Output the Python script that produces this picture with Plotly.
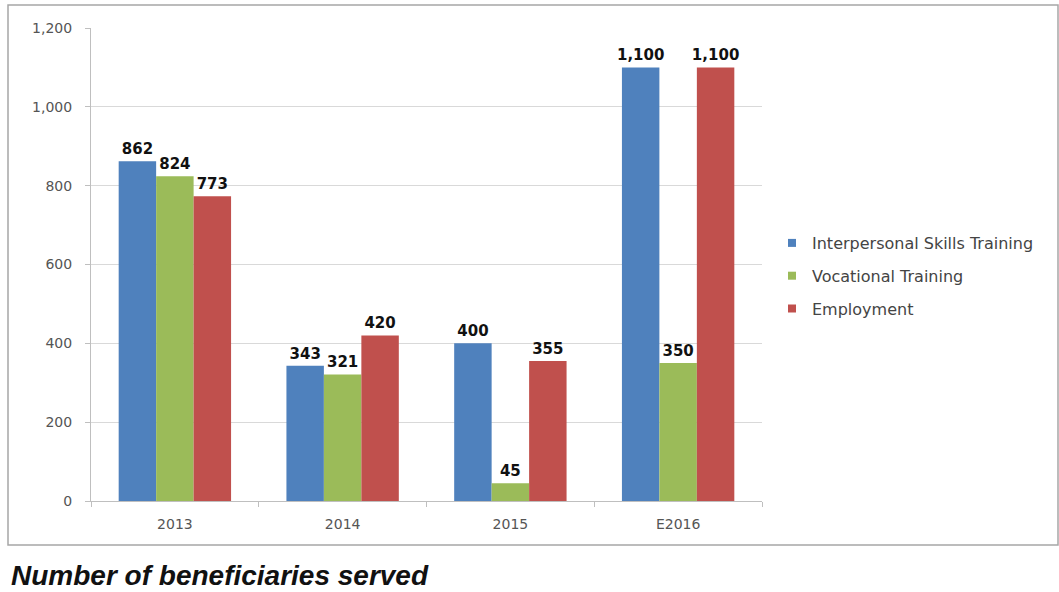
import plotly.graph_objects as go

W, H = 1059, 592
categories = ["2013", "2014", "2015", "E2016"]
series_names = ["Interpersonal Skills Training", "Vocational Training", "Employment"]
interpersonal = [862, 343, 400, 1100]
vocational = [824, 321, 45, 350]
employment = [773, 420, 355, 1100]
colors = ["#4F81BD", "#9BBB59", "#C0504D"]
y_ticks = [0, 200, 400, 600, 800, 1000, 1200]
title_text = "Number of beneficiaries served"

def px_x(p):
    return p / W

def px_y(p):
    return 1 - p / H

fig = go.Figure()
for name, vals, col in zip(series_names, [interpersonal, vocational, employment], colors):
    fig.add_trace(go.Bar(
        x=categories, y=vals, name=name, marker=dict(color=col, line=dict(width=0)),
        texttemplate="<b>%{y:,}</b>", textposition="outside", constraintext="none",
        textfont=dict(family="DejaVu Sans", size=15, color="#111111"),
        cliponaxis=False, showlegend=False,
    ))
    fig.add_trace(go.Scatter(
        x=[None], y=[None], mode="markers", name=name, legendgroup=name,
        marker=dict(symbol="square", size=8, color=col),
    ))

fig.update_layout(
    width=W, height=H,
    margin=dict(l=0, r=0, t=0, b=0),
    paper_bgcolor="white", plot_bgcolor="white",
    barmode="group", bargap=0.33, bargroupgap=0,
    xaxis=dict(domain=[px_x(91), px_x(762)], type="category",
               showline=True, linecolor="#BFBFBF", linewidth=1,
               ticks="outside", tickson="boundaries", ticklen=5, tickcolor="#BFBFBF",
               ticklabelstandoff=10,
               tickfont=dict(family="DejaVu Sans", size=14, color="#555555"),
               showgrid=False, automargin=False),
    yaxis=dict(domain=[px_y(501), px_y(28)], range=[0, 1200],
               tickvals=y_ticks, tickformat=",",
               showline=True, linecolor="#BFBFBF", linewidth=1,
               ticks="outside", ticklen=5, tickcolor="#BFBFBF",
               ticklabelstandoff=10,
               gridcolor="#D9D9D9", gridwidth=1, zeroline=False,
               tickfont=dict(family="DejaVu Sans", size=14, color="#555555"),
               automargin=False),
    legend=dict(x=px_x(772), y=px_y(226), xanchor="left", yanchor="top",
                font=dict(family="DejaVu Sans", size=16, color="#444444"),
                tracegroupgap=9, bgcolor="rgba(0,0,0,0)"),
    showlegend=True,
)

fig.add_shape(type="rect", xref="paper", yref="paper",
              x0=px_x(8), x1=px_x(1058), y0=px_y(545), y1=px_y(5),
              line=dict(color="#A6A6A6", width=1.5))

fig.add_annotation(text="<b><i>" + title_text + "</i></b>", xref="paper", yref="paper",
                   x=px_x(10), y=0, xanchor="left", yanchor="bottom", borderpad=0,
                   showarrow=False, font=dict(family="Liberation Sans", size=28, color="#111111"))

fig.write_html("out.html", config={"displayModeBar": False},
               post_script="document.body.style.margin='0';document.body.style.overflow='hidden';")
